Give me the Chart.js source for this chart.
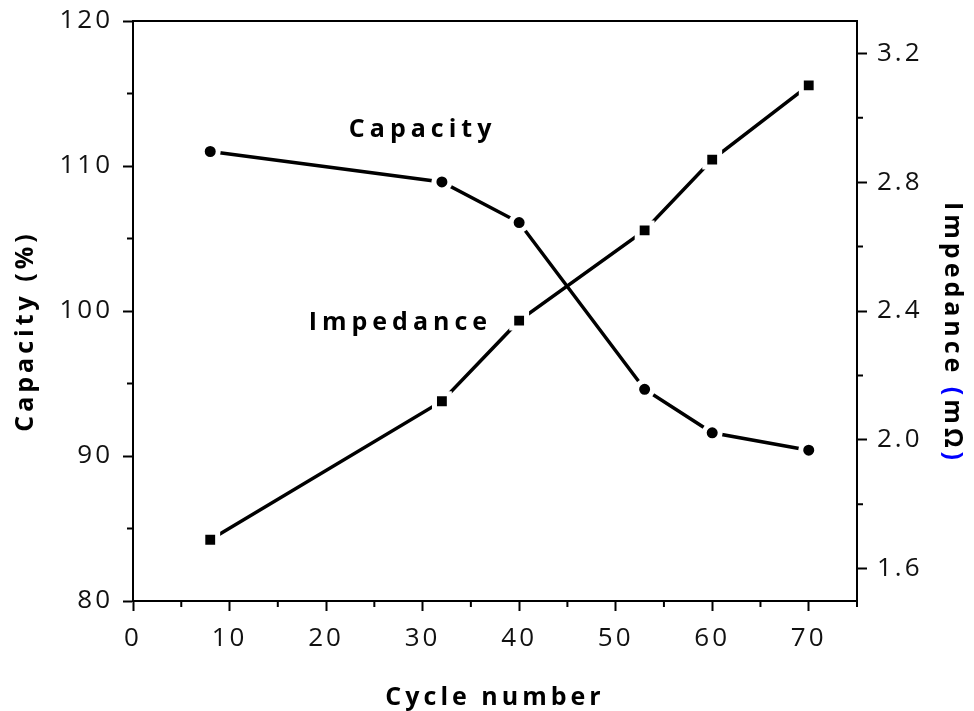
<!DOCTYPE html>
<html>
<head>
<meta charset="utf-8">
<script src="https://cdn.jsdelivr.net/npm/chart.js@4"></script>
<style>
  html, body { margin: 0; padding: 0; background: #fff; }
  #wrap { width: 974px; height: 711px; position: relative; }
</style>
</head>
<body>
<div id="wrap"><canvas id="cycleChart"></canvas></div>
<script>
// ==============================
// DATA
// ==============================
const cycles = [8, 32, 40, 53, 60, 70];
const capacity = [111.0, 108.9, 106.1, 94.6, 91.6, 90.4];
const impedance = [1.69, 2.12, 2.37, 2.65, 2.87, 3.10];

const xTicks = [0, 10, 20, 30, 40, 50, 60, 70];
const xMinorTicks = [5, 15, 25, 35, 45, 55, 65, 75];
const capTicks = [80, 90, 100, 110, 120];
const capMinorTicks = [85, 95, 105, 115];
const impTicks = [1.6, 2.0, 2.4, 2.8, 3.2];
const impMinorTicks = [1.8, 2.2, 2.6, 3.0];

// ==============================
// STYLE
// ==============================
const FONT = '"Open Sans", "DejaVu Sans", sans-serif';
const TITLE_FONT = 'bold 25px ' + FONT;
const AXIS_W = 2;
const MAJOR_LEN = 10;
const MINOR_LEN = 6;
const PLOT_TOP = 21;   // wanted top edge of the plot frame

// ==============================
// HELPERS
// ==============================
function spacedText(ctx, text, x, y, angle, align) {
    ctx.save();
    ctx.translate(x, y);
    ctx.rotate(angle);
    ctx.textAlign = align || 'center';
    ctx.textBaseline = 'alphabetic';
    ctx.fillText(text, 0, 0);
    ctx.restore();
}

// draws text made of several coloured pieces, centred on (x, y)
function multiColourText(ctx, pieces, x, y, angle) {
    ctx.save();
    ctx.translate(x, y);
    ctx.rotate(angle);
    ctx.textAlign = 'left';
    ctx.textBaseline = 'alphabetic';
    const total = pieces.reduce((s, p) => s + ctx.measureText(p.text).width, 0);
    let pos = -total / 2;
    pieces.forEach(p => {
        ctx.fillStyle = p.color;
        ctx.fillText(p.text, pos, 0);
        pos += ctx.measureText(p.text).width;
    });
    ctx.restore();
}

// ==============================
// PLUGIN: frame, minor ticks, titles, labels
// ==============================
const decorPlugin = {
    id: 'decor',
    beforeDraw(chart) {
        chart.ctx.letterSpacing = '3px';
    },
    afterDraw(chart) {
        const { ctx, chartArea: a, scales } = chart;
        ctx.save();
        ctx.strokeStyle = '#000';
        ctx.lineWidth = AXIS_W;

        // top frame line
        ctx.beginPath();
        ctx.moveTo(a.left - 1, a.top);
        ctx.lineTo(a.right + 1, a.top);
        ctx.stroke();

        // minor ticks
        ctx.beginPath();
        xMinorTicks.forEach(v => {
            const px = scales.x.getPixelForValue(v);
            ctx.moveTo(px, a.bottom);
            ctx.lineTo(px, a.bottom + MINOR_LEN);
        });
        capMinorTicks.forEach(v => {
            const py = scales.yCap.getPixelForValue(v);
            ctx.moveTo(a.left, py);
            ctx.lineTo(a.left - MINOR_LEN, py);
        });
        impMinorTicks.forEach(v => {
            const py = scales.yImp.getPixelForValue(v);
            ctx.moveTo(a.right, py);
            ctx.lineTo(a.right + MINOR_LEN, py);
        });
        ctx.stroke();

        // axis titles
        ctx.font = TITLE_FONT;
        ctx.fillStyle = '#000';
        ctx.letterSpacing = '4px';
        spacedText(ctx, 'Cycle number', (a.left + a.right) / 2, 705, 0);
        spacedText(ctx, 'Capacity (%)', 33, 331, -Math.PI / 2);
        multiColourText(ctx, [
            { text: 'Impedance ', color: '#000' },
            { text: '(', color: '#0000ff' },
            { text: 'mΩ', color: '#000' },
            { text: ')', color: '#0000ff' }
        ], 945, 333, Math.PI / 2);

        // series labels placed in data coordinates
        ctx.letterSpacing = '5px';
        ctx.fillStyle = '#000';
        spacedText(ctx, 'Capacity',
            scales.x.getPixelForValue(30.0), scales.yCap.getPixelForValue(112.0), 0);
        spacedText(ctx, 'Impedance',
            scales.x.getPixelForValue(27.7), scales.yCap.getPixelForValue(98.7), 0);

        ctx.restore();
    }
};

// ==============================
// CHART
// ==============================
function axisCommon() {
    return {
        grid: {
            drawOnChartArea: false,
            drawTicks: true,
            tickLength: MAJOR_LEN,
            tickWidth: AXIS_W,
            tickColor: '#000'
        },
        border: { display: true, color: '#000', width: AXIS_W },
        ticks: {
            color: '#111',
            font: { family: FONT, size: 26 },
            padding: 10,
            autoSkip: false,
            maxRotation: 0
        }
    };
}

const xAxis = axisCommon();
Object.assign(xAxis, {
    type: 'linear',
    position: 'bottom',
    min: 0,
    max: 75,
    afterBuildTicks: s => { s.ticks = xTicks.map(v => ({ value: v })); },
    afterFit: s => { s.height = 110; }
});
xAxis.ticks.padding = 12;
xAxis.ticks.callback = v => String(v);

// vertical scales: fixed width, and no extra room asked for half labels
function fixVertical(width) {
    return s => {
        s.width = width;
        s.paddingTop = 0;
        s.paddingBottom = 0;
    };
}

const capAxis = axisCommon();
Object.assign(capAxis, {
    type: 'linear',
    position: 'left',
    min: 80,
    max: 120,
    afterBuildTicks: s => { s.ticks = capTicks.map(v => ({ value: v })); },
    afterFit: fixVertical(133)
});
capAxis.ticks.callback = v => String(v);

const impAxis = axisCommon();
Object.assign(impAxis, {
    type: 'linear',
    position: 'right',
    min: 1.5,
    max: 3.3,
    afterBuildTicks: s => { s.ticks = impTicks.map(v => ({ value: v })); },
    afterFit: fixVertical(117)
});
impAxis.ticks.callback = v => Number(v).toFixed(1);

const ctx = document.getElementById('cycleChart').getContext('2d');
new Chart(ctx, {
    type: 'line',
    data: {
        labels: cycles,
        datasets: [
            {
                label: 'Capacity',
                data: cycles.map((c, i) => ({ x: c, y: capacity[i] })),
                yAxisID: 'yCap',
                borderColor: '#000',
                borderWidth: 3.5,
                pointStyle: 'circle',
                pointRadius: 8,
                pointBorderWidth: 5,
                pointBackgroundColor: '#000',
                pointBorderColor: '#fff',
                tension: 0
            },
            {
                label: 'Impedance',
                data: cycles.map((c, i) => ({ x: c, y: impedance[i] })),
                yAxisID: 'yImp',
                borderColor: '#000',
                borderWidth: 3.5,
                pointStyle: 'rect',
                pointRadius: 10.5,
                pointBorderWidth: 5,
                pointBackgroundColor: '#000',
                pointBorderColor: '#fff',
                tension: 0
            }
        ]
    },
    options: {
        responsive: true,
        maintainAspectRatio: false,
        animation: false,
        layout: { padding: { top: PLOT_TOP, left: 0, right: 0, bottom: 0 } },
        plugins: {
            legend: { display: false },
            tooltip: { enabled: false }
        },
        scales: {
            x: xAxis,
            yCap: capAxis,
            yImp: impAxis
        }
    },
    plugins: [decorPlugin]
});
</script>
</body>
</html>
